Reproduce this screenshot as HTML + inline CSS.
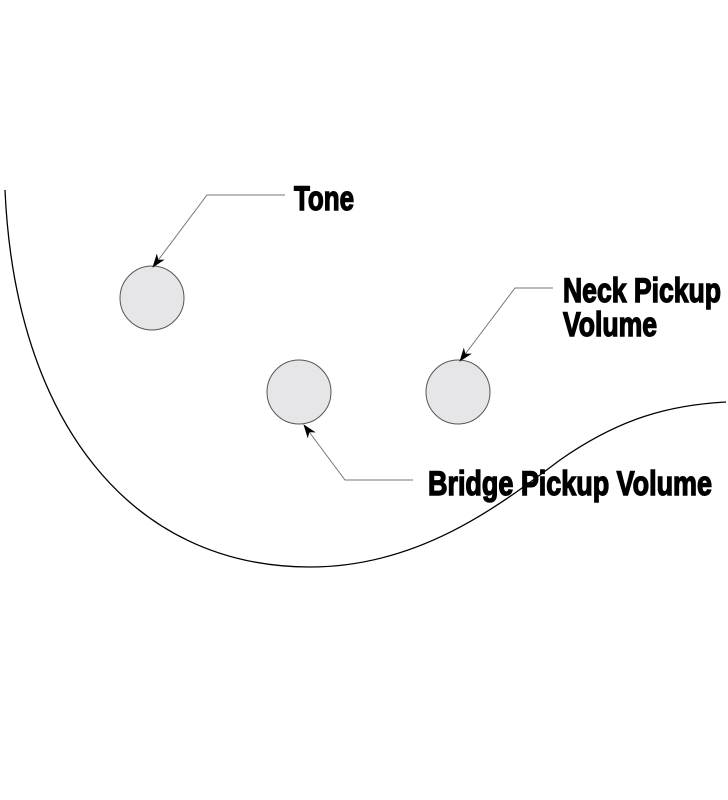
<!DOCTYPE html>
<html><head><meta charset="utf-8"><style>
html,body{margin:0;padding:0;background:#fff;width:728px;height:800px;overflow:hidden}
text{font-family:"Liberation Sans Narrow","Liberation Sans",sans-serif;font-weight:bold;fill:#000;stroke:#000;stroke-width:1.4}
</style></head><body>
<svg width="728" height="800" viewBox="0 0 728 800" xmlns="http://www.w3.org/2000/svg">
<defs><marker id="a" markerWidth="14" markerHeight="10" refX="13" refY="5" orient="auto" markerUnits="userSpaceOnUse"><path d="M0,0 L14,5 L0,10 L4,5 Z" fill="#000"/></marker></defs>
<path d="M5,190 C15,420 130,567 310,567 C420,567 500,505 560,460 C620,418 670,405 726,402" fill="none" stroke="#000" stroke-width="1.3"/>
<circle cx="152" cy="298" r="32" fill="#e6e6e8" stroke="#555" stroke-width="1"/>
<circle cx="299" cy="392" r="32" fill="#e6e6e8" stroke="#555" stroke-width="1"/>
<circle cx="458" cy="392" r="32" fill="#e6e6e8" stroke="#555" stroke-width="1"/>
<polyline points="285,195 207,195 153,267" fill="none" stroke="#777" stroke-width="1" marker-end="url(#a)"/>
<polyline points="553,288 515,288 460,361" fill="none" stroke="#777" stroke-width="1" marker-end="url(#a)"/>
<polyline points="413,480 345,480 304,425" fill="none" stroke="#777" stroke-width="1" marker-end="url(#a)"/>
<text x="294" y="210" font-size="34" textLength="60" lengthAdjust="spacingAndGlyphs">Tone</text>
<text x="563" y="302" font-size="34" textLength="158" lengthAdjust="spacingAndGlyphs">Neck Pickup</text>
<text x="563" y="336" font-size="34" textLength="94" lengthAdjust="spacingAndGlyphs">Volume</text>
<text x="428" y="495" font-size="34" textLength="284" lengthAdjust="spacingAndGlyphs">Bridge Pickup Volume</text>
</svg>
</body></html>
